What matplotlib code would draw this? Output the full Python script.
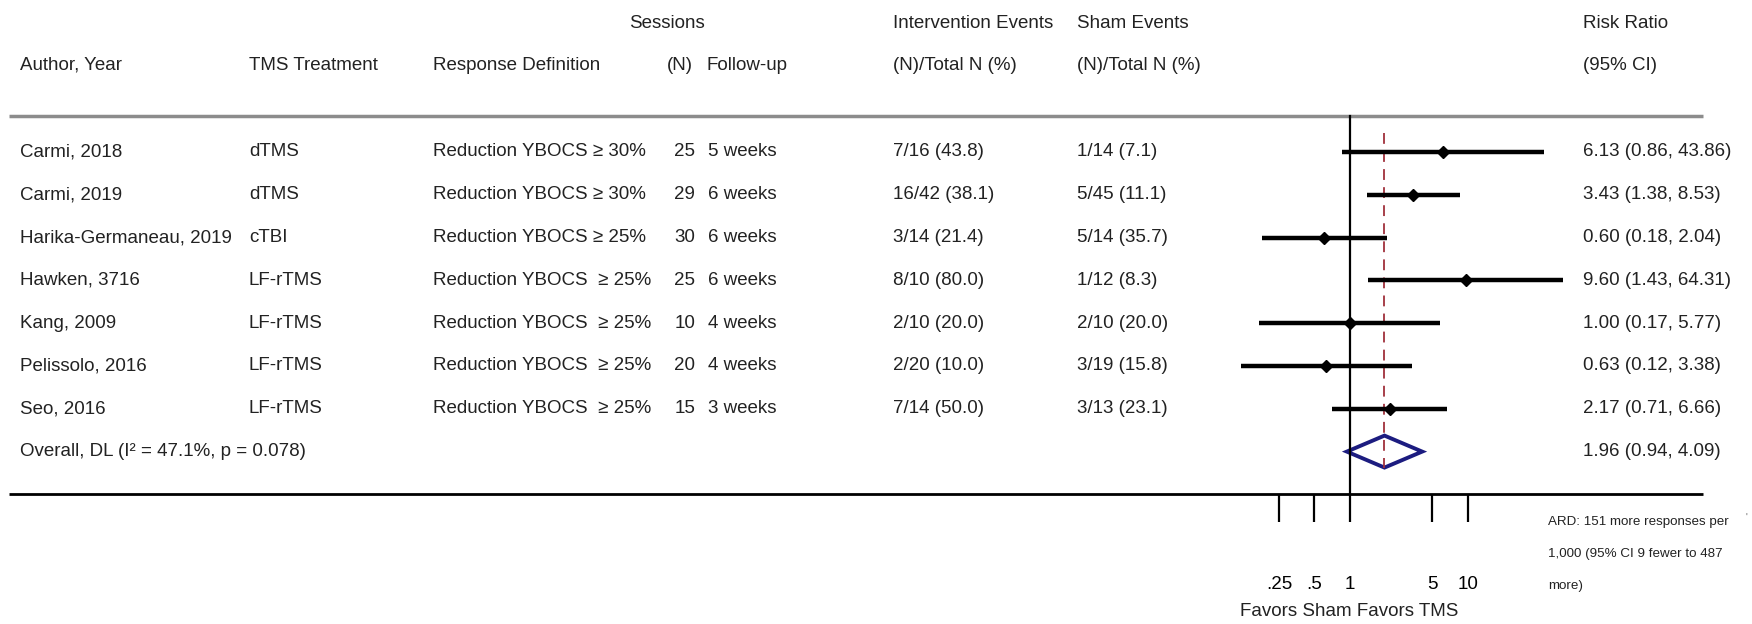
import numpy as np
import matplotlib.pyplot as plt
from matplotlib.patches import Polygon

plt.rcParams['font.family'] = ['Liberation Sans', 'DejaVu Sans']

# study data
authors = ["Carmi, 2018", "Carmi, 2019", "Harika-Germaneau, 2019", "Hawken, 3716",
           "Kang, 2009", "Pelissolo, 2016", "Seo, 2016"]
treatments = ["dTMS", "dTMS", "cTBI", "LF-rTMS", "LF-rTMS", "LF-rTMS", "LF-rTMS"]
definitions = ["Reduction YBOCS \u2265 30%", "Reduction YBOCS \u2265 30%", "Reduction YBOCS \u2265 25%",
               "Reduction YBOCS  \u2265 25%", "Reduction YBOCS  \u2265 25%", "Reduction YBOCS  \u2265 25%",
               "Reduction YBOCS  \u2265 25%"]
sessions = [25, 29, 30, 25, 10, 20, 15]
followup = ["5 weeks", "6 weeks", "6 weeks", "6 weeks", "4 weeks", "4 weeks", "3 weeks"]
int_events = ["7/16 (43.8)", "16/42 (38.1)", "3/14 (21.4)", "8/10 (80.0)",
              "2/10 (20.0)", "2/20 (10.0)", "7/14 (50.0)"]
sham_events = ["1/14 (7.1)", "5/45 (11.1)", "5/14 (35.7)", "1/12 (8.3)",
               "2/10 (20.0)", "3/19 (15.8)", "3/13 (23.1)"]
rr = [6.13, 3.43, 0.60, 9.60, 1.00, 0.63, 2.17]
rr_lo = [0.86, 1.38, 0.18, 1.43, 0.17, 0.12, 0.71]
rr_hi = [43.86, 8.53, 2.04, 64.31, 5.77, 3.38, 6.66]
overall = (1.96, 0.94, 4.09)
overall_label = "Overall, DL (I\u00b2 = 47.1%, p = 0.078)"
tick_vals = [0.25, 0.5, 1, 5, 10]
tick_labels = [".25", ".5", "1", "5", "10"]

W, H = 1752, 624
fig = plt.figure(figsize=(W / 100, H / 100), dpi=100)

# background axes in pixel units for the table text
bg = fig.add_axes([0, 0, 1, 1])
bg.set_xlim(0, W)
bg.set_ylim(H, 0)
bg.axis('off')

row0, step = 152, 42.8
rows = [row0 + step * i for i in range(len(authors))]
y_all = row0 + step * len(authors)
top_y, axis_y = 116, 494
fs = 13.5
tc = '#222222'

# column x positions (pixels)
c_auth, c_trt, c_def, c_n, c_fu = 20, 249, 433, 695, 708
c_int, c_sham, c_rr = 893, 1077, 1583

# forest plot axes (log scale)
one_x, dec = 1350, 118
left_pix, right_pix = one_x - dec, one_x + 2 * dec
ax = fig.add_axes([left_pix / W, 1 - axis_y / H, (right_pix - left_pix) / W, axis_y / H])
ax.set_xscale('log')
ax.set_xlim(0.1, 100)
ax.set_ylim(axis_y, 0)
ax.patch.set_visible(False)
for s in ax.spines.values():
    s.set_visible(False)
ax.set_yticks([])
ax.set_xticks(tick_vals)
ax.set_xticklabels(tick_labels)
ax.minorticks_off()
ax.tick_params(axis='x', direction='out', length=20, width=1.6, pad=39, labelsize=fs, colors='black')

# headers
hy1, hy2 = 24, 65
bg.text(c_auth, hy2, "Author, Year", fontsize=fs, va='center', color=tc)
bg.text(c_trt, hy2, "TMS Treatment", fontsize=fs, va='center', color=tc)
bg.text(c_def, hy2, "Response Definition", fontsize=fs, va='center', color=tc)
bg.text(667, hy1, "Sessions", fontsize=fs, va='center', ha='center', color=tc)
bg.text(680, hy2, "(N)", fontsize=fs, va='center', ha='center', color=tc)
bg.text(706, hy2, "Follow-up", fontsize=fs, va='center', color=tc)
bg.text(c_int, hy1, "Intervention Events", fontsize=fs, va='center', color=tc)
bg.text(c_int, hy2, "(N)/Total N (%)", fontsize=fs, va='center', color=tc)
bg.text(c_sham, hy1, "Sham Events", fontsize=fs, va='center', color=tc)
bg.text(c_sham, hy2, "(N)/Total N (%)", fontsize=fs, va='center', color=tc)
bg.text(c_rr, hy1, "Risk Ratio", fontsize=fs, va='center', color=tc)
bg.text(c_rr, hy2, "(95% CI)", fontsize=fs, va='center', color=tc)

# separators
bg.plot([9, 1703], [top_y, top_y], color='#8c8c8c', lw=2.5, solid_capstyle='butt')
bg.plot([9, 1703], [axis_y, axis_y], color='black', lw=2, solid_capstyle='butt')

# rows
for i, y in enumerate(rows):
    bg.text(c_auth, y, authors[i], fontsize=fs, va='center', color=tc)
    bg.text(c_trt, y, treatments[i], fontsize=fs, va='center', color=tc)
    bg.text(c_def, y, definitions[i], fontsize=fs, va='center', color=tc)
    bg.text(c_n, y, str(sessions[i]), fontsize=fs, va='center', ha='right', color=tc)
    bg.text(c_fu, y, followup[i], fontsize=fs, va='center', color=tc)
    bg.text(c_int, y, int_events[i], fontsize=fs, va='center', color=tc)
    bg.text(c_sham, y, sham_events[i], fontsize=fs, va='center', color=tc)
    bg.text(c_rr, y, "%.2f (%.2f, %.2f)" % (rr[i], rr_lo[i], rr_hi[i]),
            fontsize=fs, va='center', color=tc)

bg.text(c_auth, y_all, overall_label, fontsize=fs, va='center', color=tc)
bg.text(c_rr, y_all, "%.2f (%.2f, %.2f)" % overall, fontsize=fs, va='center', color=tc)

# forest marks
ax.plot([1, 1], [top_y, axis_y], color='black', lw=1.6)
ax.plot([overall[0], overall[0]], [133, y_all + 16], color='#a0303c', lw=1.3,
        dashes=(6, 4))
ax.hlines(rows, rr_lo, rr_hi, color='black', lw=3.2)
ax.plot(rr, rows, 'D', ms=6, color='black')
h = 16
diamond = Polygon([(overall[1], y_all), (overall[0], y_all - h),
                   (overall[2], y_all), (overall[0], y_all + h)],
                  closed=True, fill=False, edgecolor='#1c1c80', lw=2.8, joinstyle='miter')
ax.add_patch(diamond)

# bottom annotations
bg.text(1349, 612, "Favors Sham Favors TMS", fontsize=fs, ha='center', va='center', color=tc)
ard = ["ARD: 151 more responses per", "1,000 (95% CI 9 fewer to 487", "more)"]
for k, line in enumerate(ard):
    bg.text(1548, 522 + 32 * k, line, fontsize=9.6, va='center', color=tc)
bg.text(1745, 518, "'", fontsize=7, color='#666666', va='center')

fig.savefig('out.png', dpi=100)
